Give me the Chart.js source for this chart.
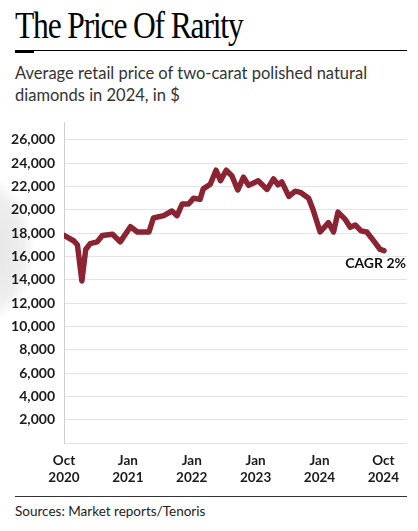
<!DOCTYPE html>
<html>
<head>
<meta charset="utf-8">
<script src="https://cdn.jsdelivr.net/npm/chart.js@4.4.1/dist/chart.umd.min.js"></script>
<style>
  html, body { margin: 0; padding: 0; background: #fff; }
  body { width: 418px; height: 531px; position: relative; overflow: hidden; font-family: Lato, "Open Sans", sans-serif; }
  #title { position: absolute; left: 15px; top: 3px; font-family: "Liberation Serif", serif; font-size: 38px; color: #000; letter-spacing: -1.4px; transform: scaleX(0.83); transform-origin: left top; white-space: nowrap; }
  #rule { position: absolute; left: 15px; top: 50px; width: 392px; height: 1px; background: #000; }
  #rulemark { position: absolute; left: 15px; top: 50px; width: 19px; height: 3px; background: #000; }
  #subtitle { position: absolute; left: 15px; top: 62px; font-size: 16.5px; line-height: 22px; color: #333; }
  #bottomrule { position: absolute; left: 15px; top: 496px; width: 392px; height: 1px; background: #333; }
  #source { position: absolute; left: 15px; top: 503px; font-size: 13.5px; color: #222; }
  #glow { position: absolute; left: -75px; top: 175px; width: 110px; height: 150px; border-radius: 50%; background: radial-gradient(ellipse at center, #e2e2e2 0%, #eeeeee 55%, rgba(255,255,255,0) 72%); }
  #wrap { position: absolute; left: 0; top: 105px; width: 418px; height: 385px; }
</style>
</head>
<body>
<div id="glow"></div>
<div id="title">The Price Of Rarity</div>
<div id="rule"></div>
<div id="rulemark"></div>
<div id="subtitle">Average retail price of two-carat polished natural<br>diamonds in 2024, in $</div>
<div id="wrap"><canvas id="myChart"></canvas></div>
<div id="bottomrule"></div>
<div id="source">Sources: Market reports/Tenoris</div>
<script>
// x position along the (evenly spaced) label axis, and price in $
const positions = [0, 0.15, 0.21, 0.28, 0.34, 0.41, 0.52, 0.60, 0.76, 0.88,
  1.04, 1.15, 1.33, 1.40, 1.56, 1.69, 1.77, 1.85, 1.95, 2.03,
  2.13, 2.18, 2.29, 2.38, 2.45, 2.54, 2.63, 2.72, 2.81, 2.89,
  3.04, 3.18, 3.28, 3.35, 3.41, 3.52, 3.62, 3.70, 3.83, 3.90,
  4.01, 4.14, 4.22, 4.29, 4.40, 4.48, 4.56, 4.65, 4.74, 4.84,
  4.95, 5.01];
const prices = [17800, 17350, 17000, 13900, 16600, 17100, 17250, 17800, 17900, 17250,
  18550, 18100, 18100, 19300, 19500, 19900, 19500, 20500, 20500, 21000,
  20900, 21800, 22200, 23400, 22500, 23400, 22900, 21700, 22800, 22100,
  22500, 21750, 22650, 22150, 22400, 21150, 21600, 21500, 21000, 20000,
  18100, 18900, 18100, 19800, 19200, 18500, 18700, 18200, 18100, 17400,
  16600, 16500];
const xLabels = [["Oct", "2020"], ["Jan", "2021"], ["Jan", "2022"], ["Jan", "2023"], ["Jan", "2024"], ["Oct", "2024"]];
const yTicks = [2000, 4000, 6000, 8000, 10000, 12000, 14000, 16000, 18000, 20000, 22000, 24000, 26000];
const endNote = "CAGR 2%";

const points = [];
for (let i = 0; i < prices.length; i++) points.push({ x: positions[i], y: prices[i] });

const lineColor = '#8a2433';

const endLabel = {
  id: 'endLabel',
  afterDatasetsDraw(chart) {
    const meta = chart.getDatasetMeta(0);
    const last = meta.data[meta.data.length - 1];
    const c = chart.ctx;
    c.save();
    c.font = 'bold 14px Lato, sans-serif';
    c.fillStyle = '#111';
    c.textAlign = 'right';
    c.textBaseline = 'middle';
    c.fillText(endNote, chart.chartArea.right - 1, last.y + 13);
    c.restore();
  }
};

const ctx = document.getElementById('myChart');
new Chart(ctx, {
  type: 'line',
  data: {
    datasets: [{
      data: points,
      borderColor: lineColor,
      borderWidth: 5.5,
      borderJoinStyle: 'round',
      borderCapStyle: 'round',
      pointRadius: 0,
      tension: 0
    }]
  },
  options: {
    responsive: true,
    maintainAspectRatio: false,
    animation: false,
    layout: { padding: { top: 8, right: 11, left: 0, bottom: 0 } },
    plugins: { legend: { display: false }, tooltip: { enabled: false } },
    scales: {
      x: {
        type: 'linear',
        min: 0,
        max: 5.37,
        afterBuildTicks(scale) {
          scale.ticks = xLabels.map((l, i) => ({ value: i }));
        },
        afterFit(scale) { scale.height = 47; },
        grid: { display: false, drawTicks: false },
        border: { display: false },
        ticks: {
          padding: 9,
          maxRotation: 0,
          autoSkip: false,
          color: '#1a1a1a',
          font: { family: 'Lato', size: 13.5, weight: 'bold', lineHeight: 1.25 },
          callback: (v) => xLabels[v]
        }
      },
      y: {
        min: 0,
        max: 27500,
        afterBuildTicks(scale) {
          scale.ticks = [0].concat(yTicks).map(v => ({ value: v }));
        },
        afterFit(scale) { scale.width = 64; },
        grid: { color: '#e3e3e3', lineWidth: 1, drawTicks: false },
        border: { display: true, color: '#cfcfcf', width: 1 },
        ticks: {
          padding: 9,
          color: '#1a1a1a',
          font: { family: 'Lato', size: 14, weight: 'bold' },
          callback: (v) => v === 0 ? '' : v.toLocaleString('en-US')
        }
      }
    }
  },
  plugins: [endLabel]
});
</script>
</body>
</html>
